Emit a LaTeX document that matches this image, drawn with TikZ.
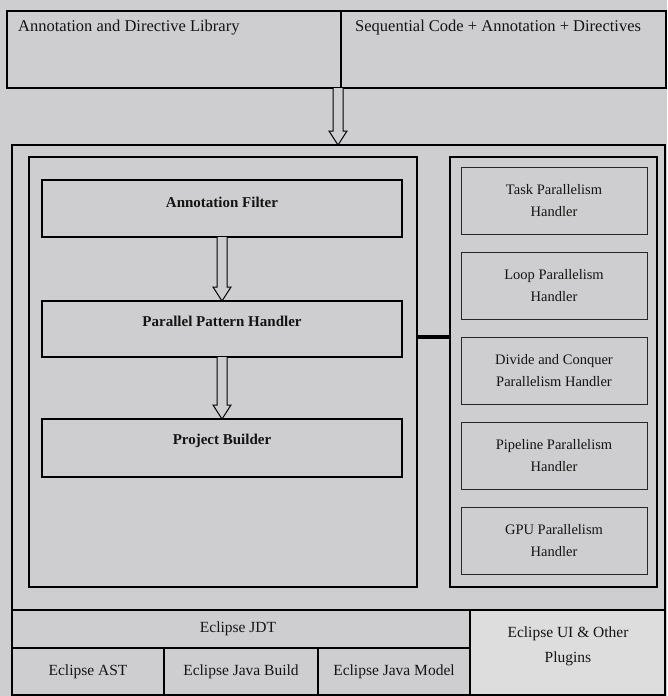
\documentclass[tikz,border=0pt]{standalone}
\usepackage{fontspec}
\setmainfont{Liberation Serif}
\usetikzlibrary{calc,fit}
\definecolor{bg}{RGB}{206,206,208}
\definecolor{bgl}{RGB}{221,221,222}
\definecolor{ink}{RGB}{20,20,20}
\newcommand\hollowdown[2]{%
  \draw[hollow] ($(#1)+(-5,0)$) -- ($(#2)+(-5,-14)$) -- ($(#2)+(-9,-14)$) -- (#2)
    -- ($(#2)+(9,-14)$) -- ($(#2)+(5,-14)$) -- ($(#1)+(5,0)$);}
\begin{document}
\begin{tikzpicture}[x=1pt,y=-1pt]
\tikzset{
  frame/.style={draw=black, line width=1.4pt, inner sep=0pt, outer sep=0pt},
  thickframe/.style={frame, line width=2.4pt},
  sub/.style={draw=black!85, line width=1pt, inner sep=0pt, outer sep=0pt},
  txt/.style={font=\fontsize{15.5}{22}\selectfont, text=ink, inner sep=0pt, align=center},
  toptxt/.style={txt, font=\fontsize{16.5}{22}\selectfont},
  paneltxt/.style={txt, font=\fontsize{14.5}{22}\selectfont},
  boldtxt/.style={txt, font=\fontsize{15}{20}\selectfont\bfseries},
  hollow/.style={draw=black, line width=1pt, fill=bg},
}
\fill[bg] (0,0) rectangle (667,696);
\useasboundingbox (0,0) rectangle (667,696);

% top row
\node[frame, fit={(7,11)(341,88)}] (lib) {};
\node[frame, fit={(341,11)(666,88)}] (seq) {};
\node[toptxt, anchor=west] (libT) at (18,28) {Annotation and Directive Library};
\node[toptxt, anchor=west] (seqT) at (355,28) {Sequential Code + Annotation + Directives};

% core
\node[thickframe, fit={(12,145)(665,610)}] (core) {};
\node[frame, fit={(29,157)(417,587)}] (left) {};
\node[frame, fit={(42,180)(402,237)}] (filter) {};
\node[frame, fit={(42,301)(402,357)}] (pph) {};
\node[frame, fit={(42,419)(402,477)}] (builder) {};
\node[boldtxt] (filterT) at (222,202) {Annotation Filter};
\node[boldtxt] (pphT) at (222,321) {Parallel Pattern Handler};
\node[boldtxt] (builderT) at (222,441) {Project Builder};

% right panel
\node[frame, fit={(450,157)(657,587)}] (right) {};
\node[sub, fit={(461,167)(647,234)}] (task) {};
\node[sub, fit={(461,252)(647,319)}] (loop) {};
\node[sub, fit={(461,337)(647,404)}] (divide) {};
\node[sub, fit={(461,422)(647,489)}] (pipe) {};
\node[sub, fit={(461,507)(647,574)}] (gpu) {};
\node[paneltxt] (taskT) at (task.center) {Task Parallelism\\Handler};
\node[paneltxt] (loopT) at (loop.center) {Loop Parallelism\\Handler};
\node[paneltxt] (divideT) at (divide.center) {Divide and Conquer\\Parallelism Handler};
\node[paneltxt] (pipeT) at (pipe.center) {Pipeline Parallelism\\Handler};
\node[paneltxt] (gpuT) at (gpu.center) {GPU Parallelism\\Handler};

% connectors
\coordinate (a1s) at ($(seq.south west)+(-3,0)$);
\coordinate (a1e) at (a1s |- core.north);
\hollowdown{a1s}{a1e}
\hollowdown{filter.south}{pph.north}
\hollowdown{pph.south}{builder.north}
\draw[line width=4pt] (left.east |- divide.north) -- (right.west |- divide.north);

% bottom table
\node[frame, fill=bgl, fit={(470,610)(665,695)}] (ui) {};
\node[frame, fit={(12,610)(470,648)}] (jdt) {};
\node[frame, fit={(12,648)(164,695)}] (ast) {};
\node[frame, fit={(164,648)(318,695)}] (build) {};
\node[frame, fit={(318,648)(470,695)}] (model) {};
\draw[line width=2.4pt] (core.south west) -- (core.south east);
\node[txt] (jdtT) at (238,629) {Eclipse JDT};
\node[txt] (astT) at (ast.center) {Eclipse AST};
\node[txt] (buildT) at (build.center) {Eclipse Java Build};
\node[txt] (modelT) at (model.center) {Eclipse Java Model};
\node[txt, font=\fontsize{15.5}{25}\selectfont] (uiT) at (568,646) {Eclipse UI \& Other\\Plugins};
\end{tikzpicture}
\end{document}
